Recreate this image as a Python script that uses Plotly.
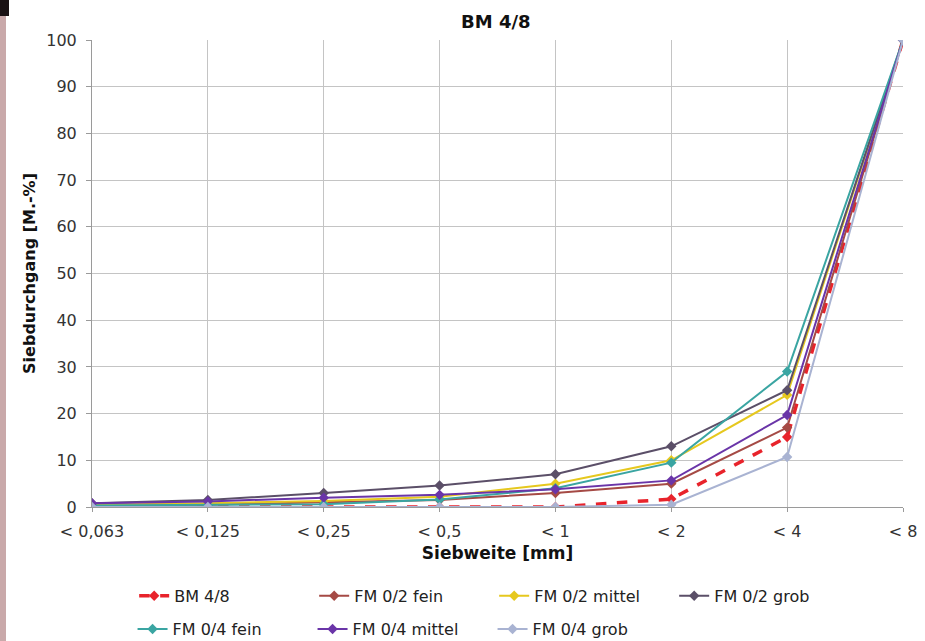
import plotly.graph_objects as go

# Sieve sizes (categories on the x axis)
siebweite = ["< 0,063", "< 0,125", "< 0,25", "< 0,5", "< 1", "< 2", "< 4", "< 8"]

# Passing fraction in mass-% per sieve size
bm_48 = [0.0, 0.0, 0.0, 0.0, 0.0, 1.7, 15.0, 100.0]
fm_02_fein = [0.3, 0.5, 1.0, 1.5, 3.0, 5.0, 17.0, 100.0]
fm_02_mittel = [0.5, 0.8, 1.3, 2.2, 5.0, 10.0, 24.0, 100.0]
fm_02_grob = [0.8, 1.5, 3.0, 4.6, 7.0, 13.0, 25.0, 100.0]
fm_04_fein = [0.3, 0.4, 0.6, 1.6, 4.0, 9.5, 29.0, 100.0]
fm_04_mittel = [0.8, 1.2, 2.0, 2.6, 3.8, 5.7, 19.7, 100.0]
fm_04_grob = [0.0, 0.0, 0.0, 0.0, 0.0, 0.5, 10.7, 100.0]

y_ticks = list(range(0, 101, 10))

series = [
    ("BM 4/8", bm_48, "#e8232b", "dash", 3.5, "legend"),
    ("FM 0/2 fein", fm_02_fein, "#a54a45", "solid", 2, "legend"),
    ("FM 0/2 mittel", fm_02_mittel, "#e6c81e", "solid", 2, "legend"),
    ("FM 0/2 grob", fm_02_grob, "#5b4f68", "solid", 2, "legend"),
    ("FM 0/4 fein", fm_04_fein, "#3aa5a2", "solid", 2, "legend2"),
    ("FM 0/4 mittel", fm_04_mittel, "#6a35a8", "solid", 2, "legend2"),
    ("FM 0/4 grob", fm_04_grob, "#a9b3d2", "solid", 2, "legend2"),
]

fig = go.Figure()
for name, vals, color, dash, width, leg in series:
    fig.add_trace(go.Scatter(
        x=siebweite, y=vals, name=name, mode="lines+markers",
        line=dict(color=color, width=width, dash=dash),
        marker=dict(symbol="diamond", size=8, color=color),
        legend=leg,
    ))

font_family = "DejaVu Sans, Liberation Sans, Arial, sans-serif"
legend_font = dict(family=font_family, size=16, color="#222222")

fig.update_layout(
    width=925, height=641,
    margin=dict(l=92, r=22, t=40, b=134, autoexpand=False),
    paper_bgcolor="white", plot_bgcolor="white",
    font=dict(family=font_family, size=16, color="#222222"),
    title=dict(text="<b>BM 4/8</b>", x=0.536, xanchor="center",
               y=0.966, yanchor="middle", font=dict(size=18, color="#111111")),
    xaxis=dict(
        type="category", categoryorder="array", categoryarray=siebweite,
        range=[0, 7], showgrid=True, gridcolor="#c4c4c4", gridwidth=1,
        showline=True, linecolor="#9a9a9a", linewidth=1, automargin=False,
        ticks="outside", ticklen=4, tickcolor="#9a9a9a", ticklabelstandoff=6,
        tickfont=dict(size=16, color="#333333"),
        title=dict(text="<b>Siebweite [mm]</b>", font=dict(size=17, color="#111111"), standoff=6),
        zeroline=False,
    ),
    yaxis=dict(
        range=[0, 100], tickvals=y_ticks, showgrid=True, gridcolor="#c4c4c4", gridwidth=1,
        showline=True, linecolor="#9a9a9a", linewidth=1, automargin=False,
        ticks="outside", ticklen=5, tickcolor="#9a9a9a", ticklabelstandoff=6,
        tickfont=dict(size=16, color="#333333"),
        title=dict(text="<b>Siebdurchgang [M.-%]</b>", font=dict(size=16, color="#111111"), standoff=6),
        zeroline=False,
    ),
    legend=dict(
        orientation="h", x=0.052, xanchor="left", y=-0.154, yanchor="top",
        entrywidth=135, entrywidthmode="pixels",
        font=legend_font, bgcolor="rgba(0,0,0,0)",
    ),
    legend2=dict(
        orientation="h", x=0.050, xanchor="left", y=-0.225, yanchor="top",
        entrywidth=135, entrywidthmode="pixels",
        font=legend_font, bgcolor="rgba(0,0,0,0)",
    ),
    showlegend=True,
)

# page edges: tinted strips along the top and left border
fig.add_shape(type="rect", xref="paper", yref="paper",
              x0=-92 / 811, x1=(855 - 92) / 811, y0=507 / 467, y1=(507 + 7) / 467,
              fillcolor="#dfe6ea", line=dict(width=0), layer="below")
fig.add_shape(type="rect", xref="paper", yref="paper",
              x0=-92 / 811, x1=(6 - 92) / 811, y0=(507 - 641) / 467, y1=(507 + 7) / 467,
              fillcolor="#c9a9aa", line=dict(width=0), layer="below")
fig.add_shape(type="rect", xref="paper", yref="paper",
              x0=-92 / 811, x1=(9 - 92) / 811, y0=(507 - 16) / 467, y1=(507 + 7) / 467,
              fillcolor="#1a1214", line=dict(width=0), layer="below")

fig.write_html("out.html")
